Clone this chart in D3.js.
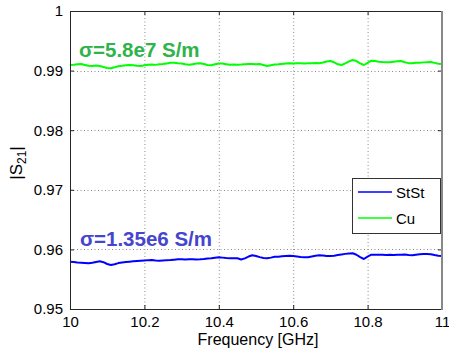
<!DOCTYPE html>
<html><head><meta charset="utf-8">
<script src="https://cdn.jsdelivr.net/npm/d3@7/dist/d3.min.js"></script>
<style>body{margin:0;background:#fff}svg{display:block}text{font-family:Arial,"Liberation Sans",Helvetica,sans-serif}</style>
</head><body><svg id="c" width="449" height="349"></svg>
<script>
const freqStart = 10, freqStep = 0.01;
const cuValues = [0.99094,0.99100,0.99108,0.99110,0.99095,0.99080,0.99078,0.99085,0.99077,0.99060,
0.99045,0.99040,0.99055,0.99072,0.99080,0.99090,0.99094,0.99088,0.99080,0.99077,
0.99090,0.99098,0.99102,0.99096,0.99106,0.99110,0.99120,0.99130,0.99133,0.99125,
0.99120,0.99108,0.99099,0.99108,0.99118,0.99122,0.99110,0.99095,0.99090,0.99105,
0.99120,0.99118,0.99108,0.99099,0.99104,0.99100,0.99102,0.99108,0.99112,0.99110,
0.99106,0.99111,0.99095,0.99077,0.99090,0.99102,0.99106,0.99112,0.99118,0.99122,
0.99118,0.99124,0.99122,0.99118,0.99124,0.99122,0.99126,0.99122,0.99135,0.99152,
0.99161,0.99140,0.99105,0.99094,0.99120,0.99155,0.99178,0.99160,0.99120,0.99094,
0.99130,0.99166,0.99160,0.99150,0.99145,0.99142,0.99139,0.99148,0.99158,0.99160,
0.99140,0.99125,0.99122,0.99130,0.99133,0.99138,0.99142,0.99144,0.99130,0.99115,0.99110];
const ststValues = [0.95794,0.95790,0.95780,0.95777,0.95772,0.95767,0.95775,0.95790,0.95800,0.95785,
0.95755,0.95738,0.95750,0.95770,0.95780,0.95788,0.95794,0.95800,0.95806,0.95810,
0.95815,0.95820,0.95822,0.95815,0.95810,0.95815,0.95820,0.95822,0.95828,0.95834,
0.95834,0.95830,0.95834,0.95836,0.95832,0.95834,0.95840,0.95848,0.95851,0.95860,
0.95867,0.95862,0.95855,0.95851,0.95853,0.95851,0.95830,0.95850,0.95880,0.95901,
0.95890,0.95870,0.95855,0.95851,0.95862,0.95875,0.95878,0.95884,0.95890,0.95894,
0.95888,0.95880,0.95872,0.95868,0.95867,0.95880,0.95893,0.95901,0.95897,0.95890,
0.95889,0.95895,0.95905,0.95915,0.95925,0.95932,0.95935,0.95910,0.95870,0.95839,
0.95880,0.95911,0.95912,0.95910,0.95911,0.95905,0.95910,0.95908,0.95912,0.95911,
0.95915,0.95905,0.95901,0.95910,0.95918,0.95922,0.95923,0.95920,0.95905,0.95892,0.95889];
const xTicks = [10, 10.2, 10.4, 10.6, 10.8, 11];
const xTickLabels = ["10","10.2","10.4","10.6","10.8","11"];
const yTicks = [0.95, 0.96, 0.97, 0.98, 0.99, 1];
const yTickLabels = ["0.95","0.96","0.97","0.98","0.99","1"];
const seriesNames = ["StSt","Cu"];
const seriesColors = ["#0000ff","#00ff00"];
const annotations = ["σ=1.35e6 S/m","σ=5.8e7 S/m"];

const svg = d3.select("#c");
const L=70, R=442, T=11, B=309;
const x = d3.scaleLinear().domain([10,11]).range([L,R]);
const y = d3.scaleLinear().domain([0.95,1]).range([B,T]);

// grid
const g = svg.append("g");
xTicks.slice(1,-1).forEach(v=>g.append("line").attr("x1",x(v)+0.5).attr("x2",x(v)+0.5).attr("y1",T).attr("y2",B)
  .attr("stroke","#8a8a8a").attr("stroke-width",1).attr("stroke-dasharray","1,2.5"));
yTicks.slice(1,-1).forEach(v=>g.append("line").attr("x1",L).attr("x2",R).attr("y1",Math.round(y(v))+0.5).attr("y2",Math.round(y(v))+0.5)
  .attr("stroke","#8a8a8a").attr("stroke-width",1).attr("stroke-dasharray","1,2.5"));

// axes
const xAxis = d3.axisBottom(x).tickValues(xTicks).tickFormat((d,i)=>xTickLabels[i]).tickSizeInner(-4).tickSizeOuter(0).tickPadding(7);
const yAxis = d3.axisLeft(y).tickValues(yTicks).tickFormat((d,i)=>yTickLabels[i]).tickSizeInner(-4).tickSizeOuter(0).tickPadding(7);
const xa = svg.append("g").attr("transform",`translate(0,${B})`).call(xAxis);
const ya = svg.append("g").attr("transform",`translate(${L},0)`).call(yAxis);
[xa,ya].forEach(a=>{a.select(".domain").remove();a.selectAll("text").attr("font-size",15).attr("fill","#000").style("font-family","Arial, 'Liberation Sans', sans-serif");a.selectAll("line").attr("stroke","#222");});
const xt = svg.append("g").attr("transform",`translate(0,${T})`).call(d3.axisTop(x).tickValues(xTicks).tickFormat("").tickSizeInner(-4).tickSizeOuter(0));
const yr = svg.append("g").attr("transform",`translate(${R},0)`).call(d3.axisRight(y).tickValues(yTicks).tickFormat("").tickSizeInner(-4).tickSizeOuter(0));
[xt,yr].forEach(a=>{a.select(".domain").remove();a.selectAll("line").attr("stroke","#222");});

// data lines
const line = d3.line().x((d,i)=>x(freqStart+i*freqStep)).y(d=>y(d));
[ststValues,cuValues].forEach((vals,k)=>{
  svg.append("path").datum(vals).attr("d",line).attr("fill","none").attr("stroke",seriesColors[k]).attr("stroke-width",2).attr("stroke-linejoin","round");
});

// frame
svg.append("line").attr("x1",L).attr("x2",R).attr("y1",T+0.5).attr("y2",T+0.5).attr("stroke","#262626");
svg.append("line").attr("x1",L).attr("x2",R).attr("y1",B+0.5).attr("y2",B+0.5).attr("stroke","#262626");
svg.append("line").attr("x1",L+0.5).attr("x2",L+0.5).attr("y1",T).attr("y2",B+1).attr("stroke","#262626");
svg.append("line").attr("x1",R).attr("x2",R).attr("y1",T).attr("y2",B+1).attr("stroke","#888").attr("stroke-width",2);

// annotations
svg.append("text").attr("x",80).attr("y",245.5).text(annotations[0])
  .attr("font-size",20.5).attr("font-weight","bold").attr("fill","#4545cf");
svg.append("text").attr("x",79).attr("y",57).text(annotations[1])
  .attr("font-size",20.5).attr("font-weight","bold").attr("fill","#2fb34a");

// axis labels
svg.append("text").attr("x",258).attr("y",345).attr("text-anchor","middle").attr("font-size",16).text("Frequency [GHz]");
const yl = svg.append("text").attr("transform","translate(22,163) rotate(-90)").attr("text-anchor","middle").attr("font-size",17);
yl.append("tspan").text("|S");
yl.append("tspan").attr("font-size",12).attr("dy",4).text("21");
yl.append("tspan").attr("dy",-4).text("|");

// legend
const lg = svg.append("g");
lg.append("rect").attr("x",352.5).attr("y",178.5).attr("width",88).attr("height",55).attr("fill","#fff").attr("stroke","#333");
seriesNames.forEach((n,i)=>{
  const yy = 192 + i*26;
  lg.append("line").attr("x1",358).attr("x2",392).attr("y1",yy).attr("y2",yy).attr("stroke",seriesColors[i]).attr("stroke-width",1.5);
  lg.append("text").attr("x",396).attr("y",yy+5.5).attr("font-size",15).text(n);
});
</script></body></html>
